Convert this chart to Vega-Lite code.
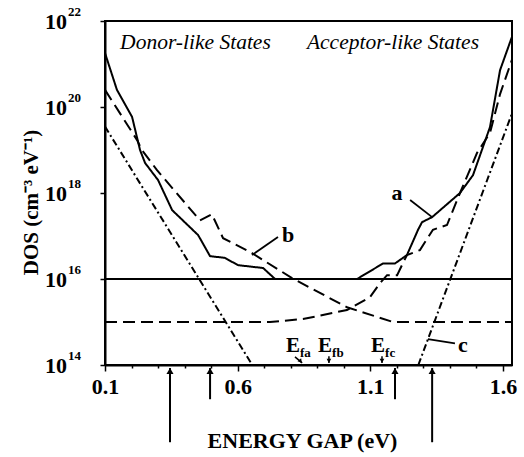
{
  "$schema": "https://vega.github.io/schema/vega-lite/v6.json",
  "autosize": {"type": "none"},
  "padding": {"left": 105, "top": 21, "right": 12, "bottom": 92},
  "width": 407,
  "height": 344,
  "background": "white",
  "config": {
    "view": {"stroke": "black", "strokeWidth": 2},
    "font": "Liberation Serif"
  },
  "datasets": {
    "curves": [
      {"curve": "a", "part": "donor", "E": 0.100, "dos": 1.8e21},
      {"curve": "a", "part": "donor", "E": 0.145, "dos": 2.5e20},
      {"curve": "a", "part": "donor", "E": 0.202, "dos": 5.9e19},
      {"curve": "a", "part": "donor", "E": 0.232, "dos": 1.0e19},
      {"curve": "a", "part": "donor", "E": 0.251, "dos": 5.0e18},
      {"curve": "a", "part": "donor", "E": 0.300, "dos": 2.0e18},
      {"curve": "a", "part": "donor", "E": 0.353, "dos": 4.0e17},
      {"curve": "a", "part": "donor", "E": 0.451, "dos": 1.05e17},
      {"curve": "a", "part": "donor", "E": 0.496, "dos": 3.4e16},
      {"curve": "a", "part": "donor", "E": 0.552, "dos": 3.1e16},
      {"curve": "a", "part": "donor", "E": 0.601, "dos": 2.1e16},
      {"curve": "a", "part": "donor", "E": 0.696, "dos": 1.8e16},
      {"curve": "a", "part": "donor", "E": 0.741, "dos": 1.0e16},
      {"curve": "a", "part": "donor", "E": 1.634, "dos": 1.0e16},
      {"curve": "a", "part": "acceptor", "E": 0.100, "dos": 1.0e16},
      {"curve": "a", "part": "acceptor", "E": 1.050, "dos": 1.0e16},
      {"curve": "a", "part": "acceptor", "E": 1.148, "dos": 2.3e16},
      {"curve": "a", "part": "acceptor", "E": 1.193, "dos": 2.3e16},
      {"curve": "a", "part": "acceptor", "E": 1.238, "dos": 3.6e16},
      {"curve": "a", "part": "acceptor", "E": 1.280, "dos": 1.4e17},
      {"curve": "a", "part": "acceptor", "E": 1.295, "dos": 2.1e17},
      {"curve": "a", "part": "acceptor", "E": 1.333, "dos": 2.75e17},
      {"curve": "a", "part": "acceptor", "E": 1.438, "dos": 1.0e18},
      {"curve": "a", "part": "acceptor", "E": 1.487, "dos": 2.6e18},
      {"curve": "a", "part": "acceptor", "E": 1.551, "dos": 3.4e19},
      {"curve": "a", "part": "acceptor", "E": 1.589, "dos": 7.2e20},
      {"curve": "a", "part": "acceptor", "E": 1.634, "dos": 4.3e21},
      {"curve": "b", "part": "donor", "E": 0.100, "dos": 2.5e20},
      {"curve": "b", "part": "donor", "E": 0.221, "dos": 1.7e19},
      {"curve": "b", "part": "donor", "E": 0.239, "dos": 1.0e19},
      {"curve": "b", "part": "donor", "E": 0.296, "dos": 3.4e18},
      {"curve": "b", "part": "donor", "E": 0.458, "dos": 2.3e17},
      {"curve": "b", "part": "donor", "E": 0.503, "dos": 3.2e17},
      {"curve": "b", "part": "donor", "E": 0.545, "dos": 8.9e16},
      {"curve": "b", "part": "donor", "E": 0.654, "dos": 4.0e16},
      {"curve": "b", "part": "donor", "E": 0.805, "dos": 1.05e16},
      {"curve": "b", "part": "donor", "E": 1.012, "dos": 2.2e15},
      {"curve": "b", "part": "donor", "E": 1.186, "dos": 1.0e15},
      {"curve": "b", "part": "donor", "E": 1.634, "dos": 1.0e15},
      {"curve": "b", "part": "acceptor", "E": 0.100, "dos": 1.0e15},
      {"curve": "b", "part": "acceptor", "E": 0.722, "dos": 1.0e15},
      {"curve": "b", "part": "acceptor", "E": 0.846, "dos": 1.17e15},
      {"curve": "b", "part": "acceptor", "E": 1.012, "dos": 1.9e15},
      {"curve": "b", "part": "acceptor", "E": 1.099, "dos": 3.8e15},
      {"curve": "b", "part": "acceptor", "E": 1.137, "dos": 8.1e15},
      {"curve": "b", "part": "acceptor", "E": 1.163, "dos": 1.23e16},
      {"curve": "b", "part": "acceptor", "E": 1.201, "dos": 1.23e16},
      {"curve": "b", "part": "acceptor", "E": 1.238, "dos": 3.6e16},
      {"curve": "b", "part": "acceptor", "E": 1.287, "dos": 4.7e16},
      {"curve": "b", "part": "acceptor", "E": 1.336, "dos": 1.4e17},
      {"curve": "b", "part": "acceptor", "E": 1.389, "dos": 1.8e17},
      {"curve": "b", "part": "acceptor", "E": 1.438, "dos": 1.0e18},
      {"curve": "b", "part": "acceptor", "E": 1.502, "dos": 8.5e18},
      {"curve": "b", "part": "acceptor", "E": 1.551, "dos": 2.5e19},
      {"curve": "b", "part": "acceptor", "E": 1.589, "dos": 2.0e20},
      {"curve": "b", "part": "acceptor", "E": 1.634, "dos": 1.26e21},
      {"curve": "c", "part": "donor", "E": 0.100, "dos": 3.5e19},
      {"curve": "c", "part": "donor", "E": 0.655, "dos": 1.0e14},
      {"curve": "c", "part": "acceptor", "E": 1.281, "dos": 1.0e14},
      {"curve": "c", "part": "acceptor", "E": 1.634, "dos": 7.1e19}
    ],
    "leaders": [
      {"label": "a", "E": 1.250, "dos": 6.9e17, "E2": 1.333, "dos2": 2.75e17},
      {"label": "b", "E": 0.752, "dos": 9.5e16, "E2": 0.654, "dos2": 3.6e16},
      {"label": "c", "E": 1.317, "dos": 4.0e14, "E2": 1.419, "dos2": 3.2e14}
    ],
    "curveLabels": [
      {"label": "a", "E": 1.201, "dos": 1.0e18},
      {"label": "b", "E": 0.790, "dos": 1.05e17},
      {"label": "c", "E": 1.449, "dos": 2.95e14}
    ],
    "regions": [
      {"text": "Donor-like States", "E": 0.157, "dos": 3.1e21},
      {"text": "Acceptor-like States", "E": 0.861, "dos": 3.1e21}
    ],
    "yTicks": [
      {"E": 0.1, "dos": 1e14, "exp": "14"},
      {"E": 0.1, "dos": 1e16, "exp": "16"},
      {"E": 0.1, "dos": 1e18, "exp": "18"},
      {"E": 0.1, "dos": 1e20, "exp": "20"},
      {"E": 0.1, "dos": 1e22, "exp": "22"}
    ],
    "gapArrows": [
      {"E": 0.345, "dos": 8.5e13, "dos2": 1.6e12},
      {"E": 0.496, "dos": 8.5e13, "dos2": 1.6e13},
      {"E": 1.193, "dos": 8.5e13, "dos2": 1.6e13},
      {"E": 1.333, "dos": 8.5e13, "dos2": 1.6e12}
    ],
    "fermiArrows": [
      {"name": "fa", "diag": true, "E": 0.843, "dos": 1.12e14, "E2": 0.816, "dos2": 1.55e14},
      {"name": "fb", "diag": false, "E": 0.944, "dos": 1.12e14, "E2": 0.944, "dos2": 1.6e14},
      {"name": "fc", "diag": false, "E": 1.144, "dos": 1.12e14, "E2": 1.144, "dos2": 1.6e14}
    ],
    "fermiLabels": [
      {"name": "fa", "E": 0.831, "dos": 2.0e14},
      {"name": "fb", "E": 0.952, "dos": 2.0e14},
      {"name": "fc", "E": 1.152, "dos": 2.0e14}
    ]
  },
  "encoding": {
    "x": {
      "field": "E",
      "type": "quantitative",
      "scale": {"domain": [0.1, 1.634], "nice": false, "zero": false},
      "axis": {
        "title": "ENERGY GAP (eV)",
        "values": [0.1, 0.2, 0.3, 0.4, 0.5, 0.6, 0.7, 0.8, 0.9, 1.0, 1.1, 1.2, 1.3, 1.4, 1.5, 1.6],
        "labelExpr": "round(datum.value*10) % 5 == 1 ? format(datum.value, '.1f') : ''",
        "labelFont": "Liberation Serif",
        "labelFontWeight": "bold",
        "labelFontSize": 22,
        "labelColor": "black",
        "labelPadding": 5,
        "labelFlush": false,
        "labelOverlap": false,
        "tickColor": "black",
        "tickWidth": 1.5,
        "tickSize": {"condition": {"test": "round(datum.value*10) % 5 == 1", "value": 6}, "value": 3},
        "domainColor": "black",
        "domainWidth": 2,
        "grid": false,
        "titleFont": "Liberation Serif",
        "titleFontSize": 22,
        "titleFontWeight": "bold",
        "titleColor": "black",
        "titleX": 197,
        "titleY": 82,
        "titleBaseline": "alphabetic",
        "titleAlign": "center"
      }
    },
    "y": {
      "field": "dos",
      "type": "quantitative",
      "scale": {"type": "log", "domain": [1e14, 1e22], "nice": false},
      "axis": {
        "title": "DOS (cm⁻³ eV⁻¹)",
        "values": [1e14, 1e16, 1e18, 1e20, 1e22],
        "labels": false,
        "tickColor": "black",
        "tickWidth": 1.5,
        "tickSize": 5,
        "domainColor": "black",
        "domainWidth": 2,
        "grid": false,
        "titleFont": "Liberation Serif",
        "titleFontSize": 21,
        "titleFontWeight": "bold",
        "titleColor": "black",
        "titleAngle": -90,
        "titleX": -68,
        "titleY": 181,
        "titleBaseline": "alphabetic",
        "titleAlign": "center"
      }
    }
  },
  "layer": [
    {
      "data": {"name": "curves"},
      "mark": {"type": "line", "color": "black", "strokeWidth": 2},
      "encoding": {
        "detail": {"field": "part", "type": "nominal"},
        "strokeDash": {
          "field": "curve",
          "type": "nominal",
          "scale": {"domain": ["a", "b", "c"], "range": [[1, 0], [12, 6], [7, 3, 2, 3]]},
          "legend": null
        }
      }
    },
    {
      "data": {"name": "leaders"},
      "mark": {"type": "rule", "color": "black", "strokeWidth": 1.8},
      "encoding": {
        "x2": {"field": "E2"},
        "y2": {"field": "dos2"}
      }
    },
    {
      "data": {"name": "gapArrows"},
      "mark": {"type": "rule", "color": "black", "strokeWidth": 2},
      "encoding": {
        "y2": {"field": "dos2"}
      }
    },
    {
      "data": {"name": "gapArrows"},
      "mark": {"type": "point", "shape": "triangle-up", "filled": true, "color": "black", "size": 50, "opacity": 1, "yOffset": 3},
      "encoding": {}
    },
    {
      "data": {"name": "fermiArrows"},
      "mark": {"type": "rule", "color": "black", "strokeWidth": 1.5},
      "encoding": {
        "x2": {"field": "E2"},
        "y2": {"field": "dos2"}
      }
    },
    {
      "data": {"name": "fermiArrows"},
      "transform": [{"filter": "!datum.diag"}],
      "mark": {"type": "point", "shape": "triangle-down", "filled": true, "color": "black", "size": 22, "opacity": 1, "yOffset": -2},
      "encoding": {}
    },
    {
      "data": {"name": "fermiArrows"},
      "transform": [{"filter": "datum.diag"}],
      "mark": {"type": "point", "shape": "triangle-down", "filled": true, "color": "black", "size": 22, "opacity": 1, "angle": 320, "xOffset": -1.5, "yOffset": -1.5},
      "encoding": {}
    },
    {
      "data": {"name": "fermiLabels"},
      "mark": {"type": "text", "text": "E", "align": "right", "baseline": "alphabetic", "font": "Liberation Serif", "fontWeight": "bold", "fontSize": 21, "color": "black", "dx": 1},
      "encoding": {}
    },
    {
      "data": {"name": "fermiLabels"},
      "mark": {"type": "text", "align": "left", "baseline": "alphabetic", "font": "Liberation Serif", "fontWeight": "bold", "fontSize": 13, "color": "black", "dx": 1, "dy": 5},
      "encoding": {"text": {"field": "name"}}
    },
    {
      "data": {"name": "yTicks"},
      "mark": {"type": "text", "text": "10", "align": "right", "baseline": "middle", "font": "Liberation Serif", "fontWeight": "bold", "fontSize": 22, "color": "black", "dx": -38, "dy": 1},
      "encoding": {}
    },
    {
      "data": {"name": "yTicks"},
      "mark": {"type": "text", "align": "left", "baseline": "middle", "font": "Liberation Serif", "fontWeight": "bold", "fontSize": 13, "color": "black", "dx": -37, "dy": -9},
      "encoding": {"text": {"field": "exp"}}
    },
    {
      "data": {"name": "curveLabels"},
      "mark": {"type": "text", "align": "center", "baseline": "middle", "font": "Liberation Serif", "fontWeight": "bold", "fontSize": 22, "color": "black"},
      "encoding": {"text": {"field": "label"}}
    },
    {
      "data": {"name": "regions"},
      "mark": {"type": "text", "align": "left", "baseline": "middle", "font": "Liberation Serif", "fontStyle": "italic", "fontSize": 21.5, "color": "black"},
      "encoding": {"text": {"field": "text"}}
    }
  ]
}
